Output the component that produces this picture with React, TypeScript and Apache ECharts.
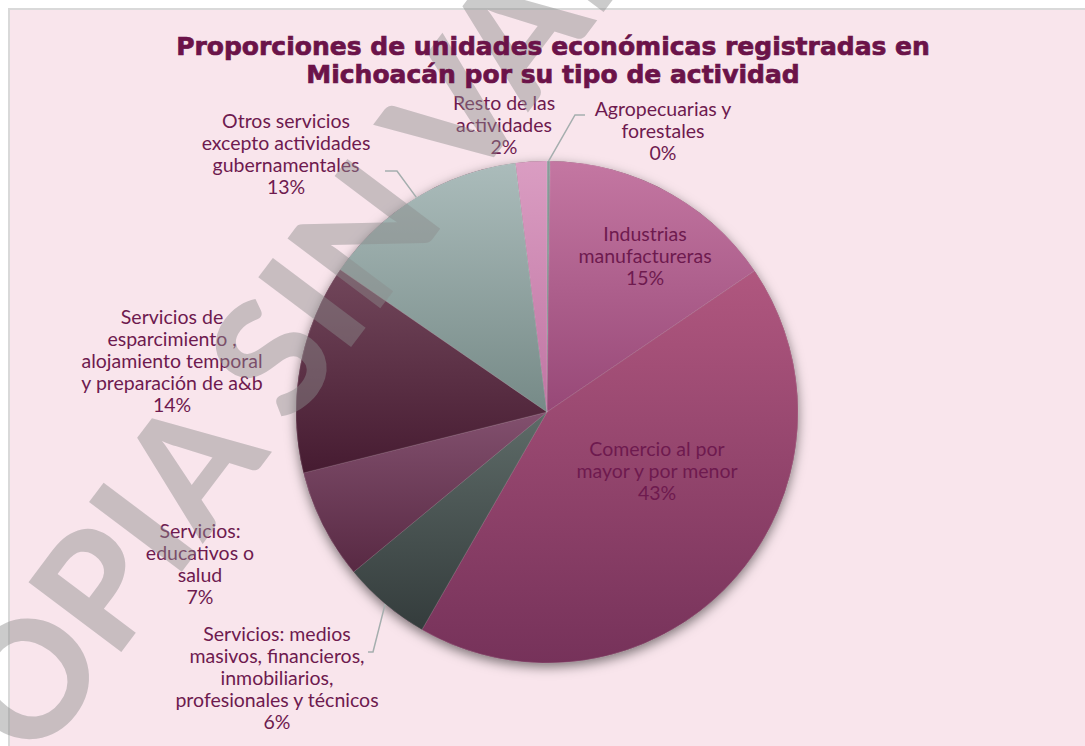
import React, { useEffect, useRef } from 'react';
import * as echarts from 'echarts';

const titleLines = [
  'Proporciones de unidades económicas registradas en',
  'Michoacán por su tipo de actividad',
];

const categories = [
  'Agropecuarias y\nforestales',
  'Industrias\nmanufactureras',
  'Comercio al por\nmayor y por menor',
  'Servicios: medios\nmasivos, financieros,\ninmobiliarios,\nprofesionales y técnicos',
  'Servicios:\neducativos o\nsalud',
  'Servicios de\nesparcimiento ,\nalojamiento temporal\ny preparación de a&b',
  'Otros servicios\nexcepto actividades\ngubernamentales',
  'Resto de las\nactividades',
];

const values = [0.2, 15.3, 42.8, 5.7, 7.1, 13.5, 13.4, 2.0];

const watermarkText = 'COPIA SIN VALOR';

const sliceColors = [
  ['#8A9C9A', '#6F817F'],
  ['#C477A2', '#974877'],
  ['#B0577F', '#76325A'],
  ['#5E6B68', '#343C3C'],
  ['#82506E', '#582943'],
  ['#72475B', '#461B31'],
  ['#ABBCBB', '#768A87'],
  ['#DA9DC2', '#C075A3'],
];

// label block centres and optional leader line (elbow, end)
const labelPlacement: { x: number; y: number; line?: number[][] }[] = [
  { x: 663, y: 130.5, line: [[575, 115], [585, 115]] },
  { x: 645, y: 255 },
  { x: 657, y: 470 },
  { x: 277, y: 677, line: [[373, 652], [368, 652]] },
  { x: 200, y: 563 },
  { x: 172, y: 360.5 },
  { x: 286, y: 153, line: [[397, 171], [385, 171]] },
  { x: 504, y: 124.5 },
];

const TEXT_COLOR = '#6E1A4F';
const TITLE_COLOR = '#6B1349';

export default function App() {
  const ref = useRef<HTMLDivElement>(null);

  useEffect(() => {
    document.body.style.margin = '0';
    const chart = echarts.init(ref.current as HTMLDivElement, null, { renderer: 'svg' });

    const data = values.map((v, i) => ({
      name: categories[i],
      value: v,
      itemStyle: {
        color: new echarts.graphic.LinearGradient(0, 0, 0, 1, [
          { offset: 0, color: sliceColors[i][0] },
          { offset: 1, color: sliceColors[i][1] },
        ]),
      },
      labelLine: { show: !!labelPlacement[i].line },
    }));

    const option: any = {
      animation: false,
      backgroundColor: '#ffffff',
      graphic: [
        {
          type: 'rect',
          z: -10,
          shape: { x: 9, y: 9, width: 1200, height: 900 },
          style: { fill: '#F9E5EC', stroke: '#D9D9D9', lineWidth: 2 },
          silent: true,
        },
        {
          type: 'text',
          z: 10,
          x: 330,
          y: 272,
          rotation: (53 * Math.PI) / 180,
          silent: true,
          style: {
            text: watermarkText,
            fill: 'rgba(140,140,140,0.45)',
            font: '900 160px Lato',
            textAlign: 'center',
            textVerticalAlign: 'middle',
          },
        },
        ...titleLines.map((t, i) => ({
          type: 'text',
          z: 20,
          x: 553,
          y: 46 + i * 28,
          silent: true,
          style: {
            text: t,
            fill: TITLE_COLOR,
            stroke: TITLE_COLOR,
            lineWidth: 0.7,
            font: 'bold 25px "DejaVu Sans"',
            textAlign: 'center',
            textVerticalAlign: 'middle',
          },
        })),
      ],
      series: [
        {
          type: 'pie',
          z: 1,
          silent: true,
          center: [547, 412],
          radius: 251,
          label: { show: false },
          labelLine: { show: false },
          itemStyle: {
            color: '#6a3a50',
            shadowBlur: 12,
            shadowColor: 'rgba(0,0,0,0.5)',
            shadowOffsetX: 0,
            shadowOffsetY: 4,
          },
          data: [{ value: 1, name: '' }],
        },
        {
          type: 'pie',
          z: 2,
          center: [547, 412],
          radius: 251,
          startAngle: 90,
          clockwise: true,
          avoidLabelOverlap: false,
          emphasis: { disabled: true },
          itemStyle: { borderColor: 'rgba(255,255,255,0.25)', borderWidth: 0.5 },
          label: {
            show: true,
            position: 'outside',
            color: TEXT_COLOR,
            fontFamily: 'Lato',
            fontSize: 19.5,
            lineHeight: 22,
            align: 'center',
            formatter: (p: any) => `${p.name}\n${Math.round(p.percent)}%`,
          },
          labelLine: {
            show: false,
            lineStyle: { color: '#A5AEAE', width: 1.5 },
          },
          labelLayout: (params: any) => {
            const p = labelPlacement[params.dataIndex];
            const res: any = { x: p.x, y: p.y, align: 'center', verticalAlign: 'middle' };
            if (p.line && params.labelLinePoints) {
              res.labelLinePoints = [params.labelLinePoints[0], p.line[0], p.line[1]];
            }
            return res;
          },
          data,
        },
      ],
    };

    chart.setOption(option);
    return () => chart.dispose();
  }, []);

  return <div ref={ref} style={{ width: 1085, height: 746 }} />;
}
